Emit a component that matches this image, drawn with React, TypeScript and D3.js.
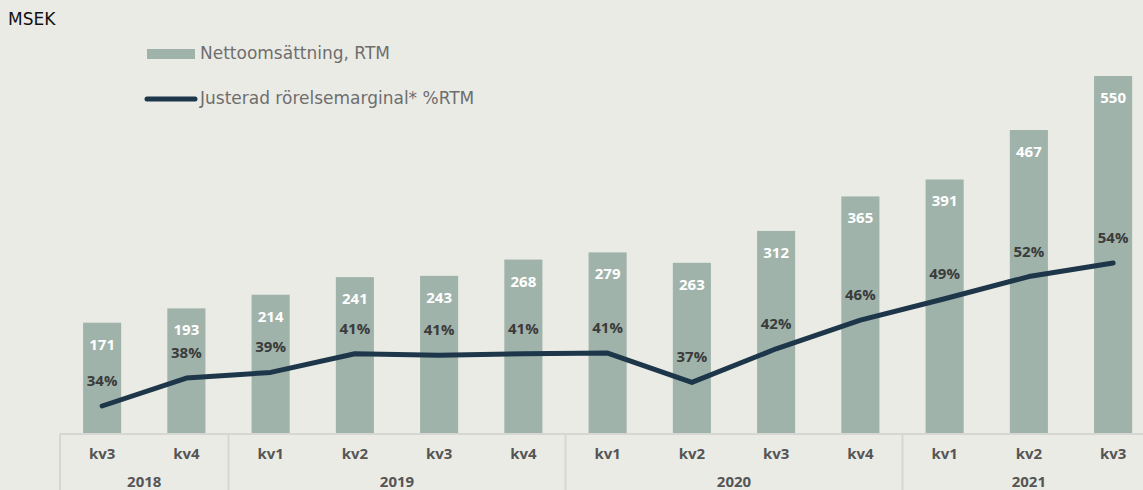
import React from "react";
import * as d3 from "d3";

const quarters = ["kv3", "kv4", "kv1", "kv2", "kv3", "kv4", "kv1", "kv2", "kv3", "kv4", "kv1", "kv2", "kv3"];
const years = ["2018", "2018", "2019", "2019", "2019", "2019", "2020", "2020", "2020", "2020", "2021", "2021", "2021"];
const revenue = [171, 193, 214, 241, 243, 268, 279, 263, 312, 365, 391, 467, 550];
const margin = [34, 38, 39, 41, 41, 41, 41, 37, 42, 46, 49, 52, 54];
const marginValues = [34.0, 37.9, 38.7, 41.3, 41.1, 41.3, 41.4, 37.3, 42.0, 46.0, 49.0, 52.1, 54.0];
const yearGroups = ["2018", "2019", "2020", "2021"];

const W = 1143;
const H = 490;
const FONT = "'DejaVu Sans', 'Open Sans', sans-serif";
const NUMFONT = "'Open Sans', 'DejaVu Sans', sans-serif";
const BG = "#ebebe6";
const BAR = "#9fb3aa";
const LINE = "#1e3649";
const LABEL = "#3b3b3b";
const AXIS = "#d6d6d2";

export default function App() {
  const keys = quarters.map((q, i) => `${years[i]}-${q}`);
  const x = d3.scaleBand<string>().domain(keys).range([60, 60 + 13 * 84.25]).paddingInner(0.548).paddingOuter(0.274);
  const baseY = 434;
  const yBar = d3.scaleLinear().domain([0, 550]).range([baseY, 76]);
  const yLine = d3.scaleLinear().domain([34, 54]).range([406, 263]);
  const cx = (i: number) => (x(keys[i]) as number) + x.bandwidth() / 2;
  const line = d3.line<number>().x((_, i) => cx(i)).y((d) => yLine(d)).curve(d3.curveLinear);

  const groups = yearGroups.map((yr) => {
    const idx = years.map((y, i) => (y === yr ? i : -1)).filter((i) => i >= 0);
    const step = x.step();
    const start = 60 + idx[0] * step;
    const end = 60 + (idx[idx.length - 1] + 1) * step;
    return { yr, start, end };
  });

  return (
    <svg width={W} height={H} style={{ position: "absolute", left: 0, top: 0, background: BG }} fontFamily={FONT}>
      <rect x={0} y={0} width={W} height={H} fill={BG} />
      <text x={8} y={25} fontSize={17} fill="#111">MSEK</text>
      {/* legend */}
      <rect x={147} y={49} width={48} height={10} fill={BAR} />
      <text x={200} y={59} fontSize={17} fill="#6e6e6e">Nettoomsättning, RTM</text>
      <line x1={147} x2={195} y1={99} y2={99} stroke={LINE} strokeWidth={5} strokeLinecap="round" />
      <text x={200} y={104} fontSize={17} fill="#6e6e6e">Justerad rörelsemarginal* %RTM</text>

      {/* bars */}
      {revenue.map((v, i) => (
        <g key={"b" + i}>
          <rect x={x(keys[i])} y={yBar(v)} width={x.bandwidth()} height={baseY - yBar(v)} fill={BAR} />
          <text x={cx(i)} y={yBar(v) + 27} textAnchor="middle" fontFamily={NUMFONT} fontSize={15} fontWeight={700} fill="#fff">{v}</text>
        </g>
      ))}

      {/* line */}
      <path d={line(marginValues) || ""} fill="none" stroke={LINE} strokeWidth={5} strokeLinejoin="round" strokeLinecap="round" />
      {margin.map((m, i) => (
        <text key={"m" + i} x={cx(i)} y={yLine(marginValues[i]) - 20} textAnchor="middle" fontFamily={NUMFONT} fontSize={15} fontWeight={700} fill={LABEL}>{m}%</text>
      ))}

      {/* axis */}
      <line x1={60} x2={W} y1={baseY} y2={baseY} stroke={AXIS} strokeWidth={2} />
      {groups.map((g) => (
        <line key={"s" + g.yr} x1={g.start} x2={g.start} y1={baseY} y2={H} stroke={AXIS} strokeWidth={2} />
      ))}
      {quarters.map((q, i) => (
        <text key={"q" + i} x={cx(i)} y={459} textAnchor="middle" fontFamily={NUMFONT} fontSize={15} fontWeight={700} fill="#555">{q}</text>
      ))}
      {groups.map((g) => (
        <text key={"y" + g.yr} x={(g.start + g.end) / 2} y={487} textAnchor="middle" fontFamily={NUMFONT} fontSize={15} fontWeight={700} fill="#555">{g.yr}</text>
      ))}
    </svg>
  );
}
